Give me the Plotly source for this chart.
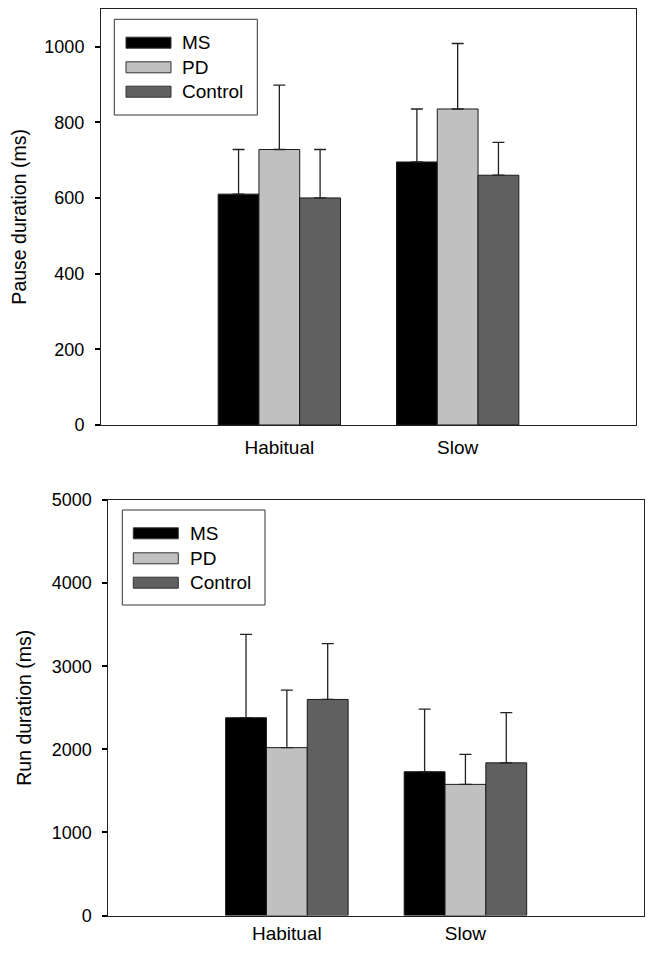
import plotly.graph_objects as go

# Window is 654x954; the page body has an 8px margin, so the figure sits at (8, 8)
OFF = 8
W, H = 654 - OFF, 954 - 2 * OFF

categories = ["Habitual", "Slow"]
groups = ["MS", "PD", "Control"]
colors = ["#000000", "#c0c0c0", "#606060"]

pause_ms = [610, 695]
pause_pd = [728, 835]
pause_ctrl = [600, 660]
pause_ms_err = [118, 140]
pause_pd_err = [170, 173]
pause_ctrl_err = [128, 87]

run_ms = [2380, 1730]
run_pd = [2020, 1578]
run_ctrl = [2600, 1837]
run_ms_err = [1003, 753]
run_pd_err = [692, 360]
run_ctrl_err = [671, 605]

pause_vals = [pause_ms, pause_pd, pause_ctrl]
pause_errs = [pause_ms_err, pause_pd_err, pause_ctrl_err]
run_vals = [run_ms, run_pd, run_ctrl]
run_errs = [run_ms_err, run_pd_err, run_ctrl_err]

FONT = "Liberation Sans, Arial, sans-serif"

def px(x):
    return (x - OFF) / W

def py(y):
    return 1 - (y - OFF) / H

fig = go.Figure()

for i, g in enumerate(groups):
    fig.add_trace(go.Bar(
        x=categories, y=pause_vals[i], name=g, xaxis="x", yaxis="y",
        marker=dict(color=colors[i], line=dict(color="#1a1a1a", width=1)),
        error_y=dict(type="data", array=pause_errs[i], arrayminus=[0, 0],
                     symmetric=False, color="#222222", thickness=1.3, width=6),
        showlegend=False,
    ))
for i, g in enumerate(groups):
    fig.add_trace(go.Bar(
        x=categories, y=run_vals[i], name=g, xaxis="x2", yaxis="y2",
        marker=dict(color=colors[i], line=dict(color="#1a1a1a", width=1)),
        error_y=dict(type="data", array=run_errs[i], arrayminus=[0, 0],
                     symmetric=False, color="#222222", thickness=1.3, width=6),
        showlegend=False,
    ))

axis_common = dict(showline=True, mirror=True, linecolor="#222222", linewidth=1,
                   showgrid=False, zeroline=False)

xcommon = dict(range=[-1, 2], ticks="", tickfont=dict(size=19), **axis_common)
ycommon = dict(ticks="outside", ticklen=5, tickwidth=2, tickcolor="black",
               tickfont=dict(size=18), ticklabelstandoff=7, **axis_common)

fig.update_layout(
    width=W, height=H,
    template="none",
    paper_bgcolor="white", plot_bgcolor="white",
    margin=dict(l=0, r=0, t=0, b=0),
    barmode="group", bargap=0.314, bargroupgap=0,
    font=dict(family=FONT, color="black", size=16),
    xaxis=dict(domain=[px(101), px(636)], anchor="y", ticklabelstandoff=5, **xcommon),
    yaxis=dict(domain=[py(425), py(8.7)], anchor="x", range=[0, 1100],
               tickvals=[0, 200, 400, 600, 800, 1000],
               title=dict(text="Pause duration (ms)", font=dict(size=19.5), standoff=14),
               **ycommon),
    xaxis2=dict(domain=[px(108.3), px(644)], anchor="y2", ticklabelstandoff=1, **xcommon),
    yaxis2=dict(domain=[py(915.5), py(500)], anchor="x2", range=[0, 5000],
                tickvals=[0, 1000, 2000, 3000, 4000, 5000],
                title=dict(text="Run duration (ms)", font=dict(size=19.5), standoff=14),
                **ycommon),
)

# Legend boxes drawn as layout decorations (wide swatches as in the original)
def add_legend(box, sw_x, rows, text_x):
    x0, y0, x1, y1 = box
    fig.add_shape(type="rect", xref="paper", yref="paper",
                  x0=px(x0), x1=px(x1), y0=py(y1), y1=py(y0),
                  line=dict(color="#333333", width=1), fillcolor="white")
    for i, g in enumerate(groups):
        cy = rows[i]
        fig.add_shape(type="rect", xref="paper", yref="paper",
                      x0=px(sw_x[0]), x1=px(sw_x[1]), y0=py(cy + 5.5), y1=py(cy - 5.5),
                      line=dict(color="#333333", width=1), fillcolor=colors[i])
        fig.add_annotation(xref="paper", yref="paper", x=px(text_x), y=py(cy),
                           text=g, showarrow=False, xanchor="left", yanchor="middle",
                           xshift=-2,
                           font=dict(size=19, family=FONT, color="black"))

add_legend((114.3, 19.3, 257.3, 115), (126, 171), [42.7, 67.3, 91.7], 182.3)
add_legend((122.3, 510, 265, 605), (133.3, 178.3), [533.3, 558.3, 582.7], 190)

fig.write_html("out.html")
